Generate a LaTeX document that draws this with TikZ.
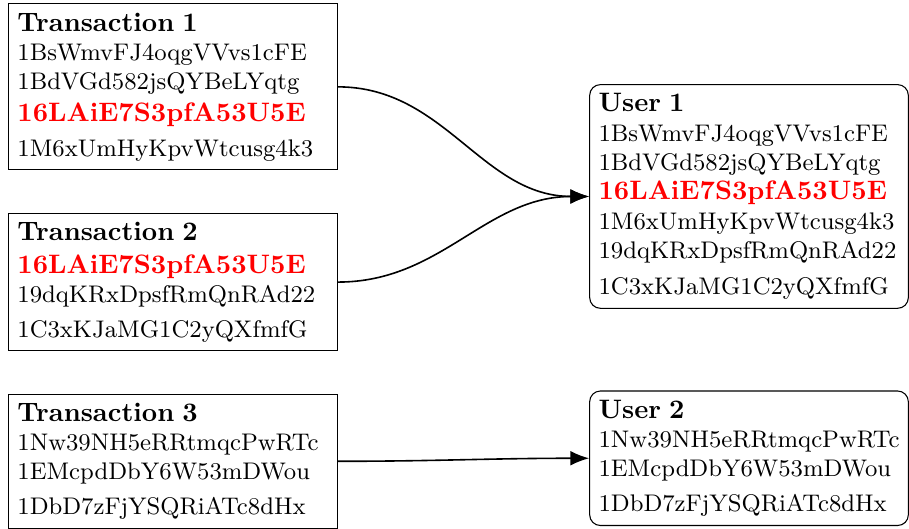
\documentclass[tikz,border=0pt]{standalone}
\usepackage{tikz}
\usetikzlibrary{arrows.meta}
\newcommand{\hd}[1]{{\normalsize\bfseries #1}}
\newcommand{\addr}[1]{{\normalsize\bfseries\color{red}#1}}

\begin{document}
\begin{tikzpicture}[
   tx/.style={draw,anchor=north west,font=\small,align=left,text width=4.095cm},
   usr/.style={tx,rounded corners,text width=3.96cm},
   link/.style={semithick,-{Latex[length=7pt,width=5.5pt]}}]
   \useasboundingbox (0,0) rectangle (11.965,-6.952);
   \node[tx] (t1) at (0.105,-0.044) {\hd{Transaction 1}\\
      1BsWmvFJ4oqgVVvs1cFE\\ 1BdVGd582jsQYBeLYqtg\\[0.8pt]
      \addr{16LAiE7S3pfA53U5E}\\[2pt] 1M6xUmHyKpvWtcusg4k3};
   \node[tx] (t2) at (0.105,-2.80) {\hd{Transaction 2}\\[1.2pt]
      \addr{16LAiE7S3pfA53U5E}\\ 19dqKRxDpsfRmQnRAd22\\[2pt]
      1C3xKJaMG1C2yQXfmfG};
   \node[tx] (t3) at (0.105,-5.18) {\hd{Transaction 3}\\
      1Nw39NH5eRRtmqcPwRTc\\ 1EMcpdDbY6W53mDWou\\[2pt]
      1DbD7zFjYSQRiATc8dHx};
   \node[usr] (u1) at (7.755,-1.107) {\hd{User 1}\\
      1BsWmvFJ4oqgVVvs1cFE\\ 1BdVGd582jsQYBeLYqtg\\
      \addr{16LAiE7S3pfA53U5E}\\ 1M6xUmHyKpvWtcusg4k3\\
      19dqKRxDpsfRmQnRAd22\\[2.4pt] 1C3xKJaMG1C2yQXfmfG};
   \node[usr] (u2) at (7.755,-5.14) {\hd{User 2}\\
      1Nw39NH5eRRtmqcPwRTc\\ 1EMcpdDbY6W53mDWou\\[2pt]
      1DbD7zFjYSQRiATc8dHx};
   \draw[link] (t1.east) to[out=0,in=180] (u1.west);
   \draw[link] (t2.east) to[out=0,in=180] (u1.west);
   \draw[link] (t3.east) to[out=0,in=180] (u2.west);
\end{tikzpicture}
\end{document}
